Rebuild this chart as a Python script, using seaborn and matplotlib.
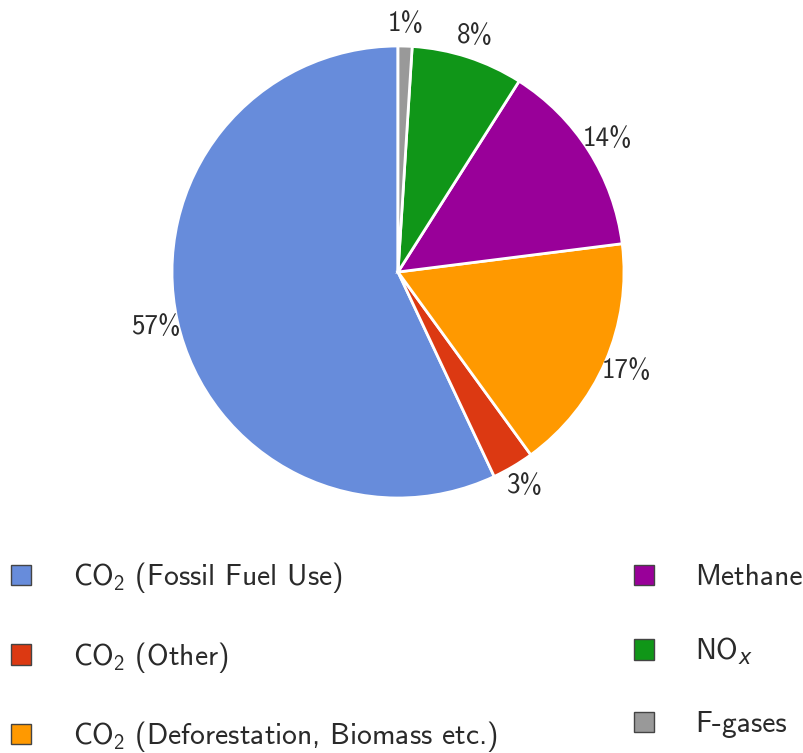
import matplotlib
matplotlib.use("Agg")
import matplotlib.pyplot as plt
from matplotlib.patches import Patch
import seaborn as sns

# data
labels = ["CO$_2$ (Fossil Fuel Use)", "CO$_2$ (Other)", "CO$_2$ (Deforestation, Biomass etc.)",
          "Methane", "NO$_x$", "F-gases"]
shares = [57, 3, 17, 14, 8, 1]
colors = ["#678CDB", "#DC3912", "#FF9900", "#990099", "#109618", "#999999"]

sns.set_theme(style="white")
plt.rcParams["font.family"] = ["cmss10", "DejaVu Sans"]
plt.rcParams["mathtext.fontset"] = "custom"
plt.rcParams["mathtext.rm"] = "cmss10"
plt.rcParams["mathtext.it"] = "DejaVu Sans:italic"
plt.rcParams["axes.unicode_minus"] = False

fig = plt.figure(figsize=(8.04, 7.53), dpi=100)
# pie box: center (398,272) px, radius 226 px
W, H = 804, 753
ax = fig.add_axes([(398 - 226) / W, (H - 498) / H, 452 / W, 452 / H])
wedges, texts, autotexts = ax.pie(
    shares, colors=colors, startangle=90, counterclock=True,
    autopct="%d%%", pctdistance=1.1,
    wedgeprops=dict(edgecolor="white", linewidth=2),
    textprops=dict(fontsize=19.5, color="#2a2a2a"))
ax.set_xlim(-1, 1)
ax.set_ylim(-1, 1)
ax.set_aspect("equal")
ax.axis("off")

handles = [Patch(facecolor=c, edgecolor="#444444", linewidth=1) for c in colors]
leg = fig.legend(handles, labels, ncol=2, loc="lower left",
                 bbox_to_anchor=(-0.012, -0.029, 1.036, 0.3), mode="expand",
                 frameon=False, fontsize=21.3, handlelength=0.68, handleheight=0.68,
                 handletextpad=1.4, labelspacing=1.5, borderaxespad=0.3)
for t in leg.get_texts():
    t.set_color("#2a2a2a")

fig.savefig("out.png", dpi=100)
